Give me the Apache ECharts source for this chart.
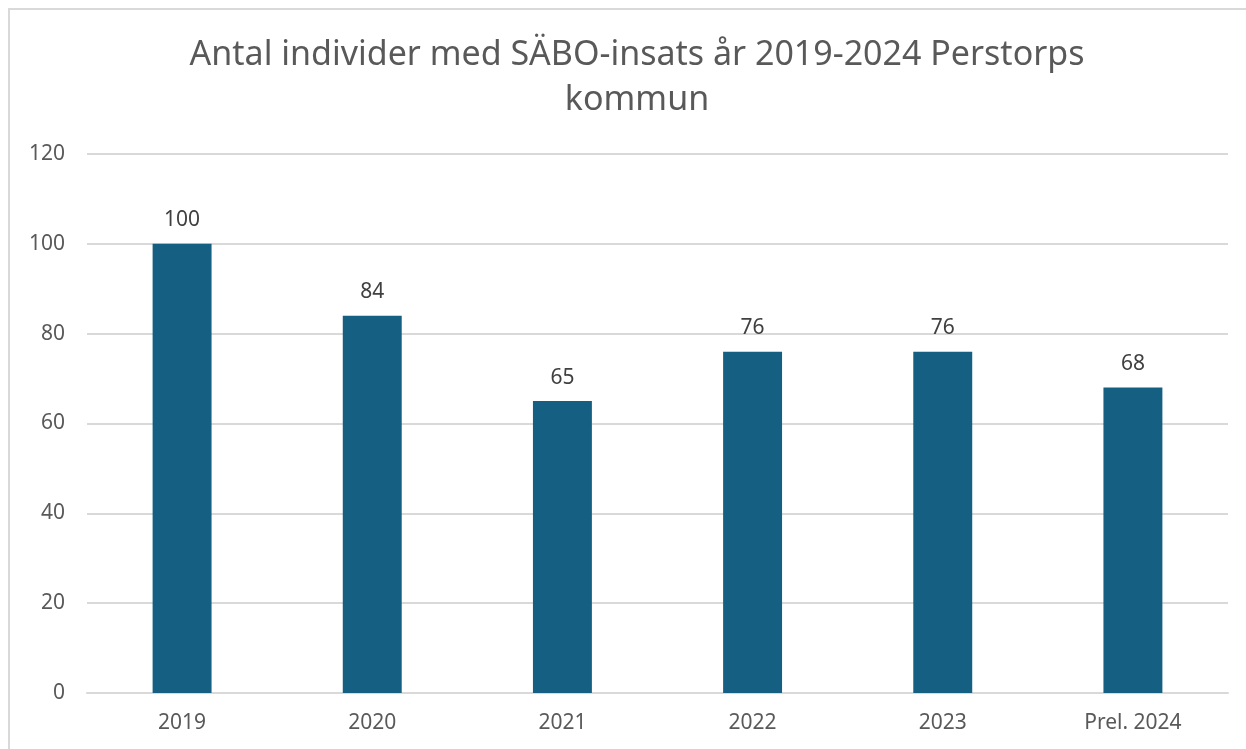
<!DOCTYPE html>
<html>
<head>
<meta charset="utf-8">
<script src="https://cdn.jsdelivr.net/npm/echarts@6/dist/echarts.min.js"></script>
<style>
html,body{margin:0;padding:0;background:#fff;}
#c{width:1246px;height:749px;}
</style>
</head>
<body>
<div id="c"></div>
<script>
const titleText = "Antal individer med SÄBO-insats år 2019-2024 Perstorps\nkommun";
const categories = ["2019", "2020", "2021", "2022", "2023", "Prel. 2024"];
const values = [100, 84, 65, 76, 76, 68];
const yMin = 0, yMax = 120, yStep = 20;

const chart = echarts.init(document.getElementById('c'), null, {renderer: 'canvas'});
const font = "'Noto Sans', 'Open Sans', sans-serif";
chart.setOption({
  backgroundColor: '#ffffff',
  animation: false,
  textStyle: {fontFamily: font},
  graphic: [{
    type: 'rect',
    shape: {x: 9, y: 9, width: 1300, height: 800},
    style: {fill: 'none', stroke: '#d9d9d9', lineWidth: 2},
    silent: true
  }],
  title: {
    text: titleText,
    left: 632,
    textAlign: 'center',
    top: 28,
    textStyle: {fontFamily: font, fontSize: 34, fontWeight: 'normal', color: '#595959', lineHeight: 45}
  },
  grid: {left: 87, right: 18, top: 154, bottom: 56, containLabel: false},
  xAxis: {
    type: 'category',
    data: categories,
    axisLine: {show: true, lineStyle: {color: '#d9d9d9', width: 2}},
    axisTick: {show: false},
    axisLabel: {color: '#595959', fontSize: 21, margin: 20, fontFamily: font}
  },
  yAxis: {
    type: 'value',
    min: yMin, max: yMax, interval: yStep,
    axisLine: {show: false},
    axisTick: {show: false},
    splitLine: {lineStyle: {color: '#d9d9d9', width: 2}},
    axisLabel: {color: '#595959', fontSize: 21, margin: 22, fontFamily: font}
  },
  series: [{
    type: 'bar',
    data: values,
    barWidth: '31%',
    itemStyle: {color: '#156082'},
    label: {show: true, position: 'top', distance: 13, color: '#404040', fontSize: 21, fontFamily: font}
  }]
});
</script>
</body>
</html>
